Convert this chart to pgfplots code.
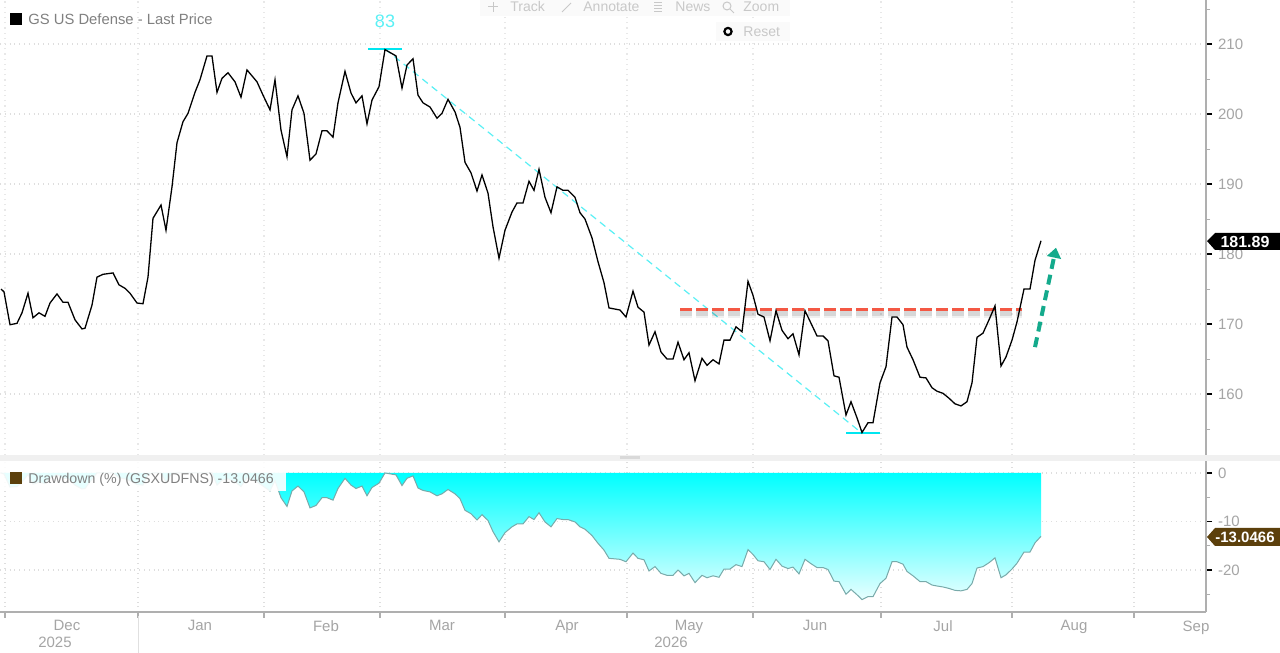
\documentclass[border=0pt]{standalone}
\usepackage{fontspec}
\setmainfont{Liberation Sans}
\usepackage{pgfplots}
\pgfplotsset{compat=1.18}
\usetikzlibrary{arrows.meta}
\definecolor{lblgray}{RGB}{165,165,165}
\definecolor{leggray}{RGB}{128,128,128}
\definecolor{tbgray}{RGB}{200,200,200}
\definecolor{axgray}{RGB}{175,175,175}
\definecolor{gridc}{RGB}{222,222,222}
\definecolor{cyanA}{RGB}{0,230,240}
\definecolor{cyanB}{RGB}{90,240,245}
\definecolor{redd}{RGB}{244,88,68}
\definecolor{teald}{RGB}{20,170,140}
\definecolor{ddbrown}{RGB}{92,64,12}
\definecolor{ddline}{RGB}{120,170,170}
\newcommand{\fs}[1]{\fontsize{#1}{#1}\selectfont}

\pgfplotstableread{
x p
1 175.0
4 174.6
10 169.9
17 170.1
22 171.6
28 174.4
33 170.9
39 171.6
45 171.1
50 173.0
57 174.3
63 173.1
68 173.1
75 170.6
82 169.3
85 169.4
92 172.7
97 176.7
103 177.1
113 177.3
119 175.6
125 175.1
130 174.4
137 173.0
143 172.9
148 176.7
153 185.1
161 187.0
166 183.4
172 189.6
177 195.9
183 198.9
188 200.1
195 203.1
200 204.9
207 208.3
212 208.3
217 203.1
222 205.1
228 205.9
235 204.6
241 202.4
247 206.3
257 204.6
263 202.7
270 200.6
275 204.9
281 197.7
287 193.9
292 200.6
298 202.6
304 200.1
310 193.4
316 194.3
322 197.6
327 197.6
333 196.7
338 201.6
345 206.1
351 203.0
356 201.6
362 202.6
367 198.6
372 202.0
379 203.9
385 209.2
396 208.3
402 203.7
407 207.0
413 207.9
418 202.7
423 201.6
430 201.0
437 199.4
442 200.1
448 202.1
455 200.3
460 198.1
465 193.1
471 191.6
477 189.0
482 191.3
488 188.7
493 183.9
499 179.4
505 183.4
512 186.0
517 187.3
523 187.3
529 190.4
534 189.1
539 192.1
545 188.1
551 185.9
557 189.6
563 189.1
568 189.1
575 188.1
580 185.9
585 185.0
592 182.3
598 178.9
604 175.9
609 172.3
620 172.0
626 171.0
633 174.7
638 172.4
644 171.7
649 167.0
655 168.9
661 166.0
667 165.0
673 165.0
678 167.4
684 164.9
689 165.9
695 161.9
702 165.1
707 164.1
713 164.9
719 164.3
724 167.7
730 167.7
736 169.6
742 168.9
748 176.1
753 174.1
758 171.4
764 171.0
770 167.6
776 171.9
782 169.1
788 167.9
793 168.6
799 165.6
805 171.9
811 170.1
817 168.3
823 168.3
828 167.6
834 162.6
839 162.4
846 157.0
851 158.9
857 156.6
862 154.5
868 155.9
873 155.9
880 161.6
886 163.9
892 171.0
897 171.0
903 169.9
907 166.7
913 164.9
920 162.4
926 162.3
932 160.9
937 160.4
943 160.1
949 159.4
955 158.6
961 158.3
967 158.9
972 161.6
977 168.1
983 168.7
989 170.6
995 172.6
1001 164.0
1006 165.3
1012 167.7
1017 170.3
1024 175.0
1030 175.0
1035 179.1
1041 181.89
}\pricetable

\pgfplotstableread{
x d
1 0
4 -0.2
10 -2.9
17 -2.8
22 -1.9
28 -0.3
33 -2.3
39 -1.9
45 -2.2
50 -1.1
57 -0.4
63 -1.1
68 -1.1
75 -2.5
82 -3.3
85 -3.2
92 -1.3
97 0
103 0
113 0
119 -1.0
125 -1.2
130 -1.6
137 -2.4
143 -2.5
148 -0.3
153 0
161 0
166 -1.9
172 0
177 0
183 0
188 0
195 0
200 0
207 0
212 0
217 -2.5
222 -1.5
228 -1.2
235 -1.8
241 -2.8
247 -1.0
257 -1.8
263 -2.7
270 -3.7
275 -1.6
281 -5.1
287 -6.9
292 -3.7
298 -2.7
304 -3.9
310 -7.2
316 -6.7
322 -5.1
327 -5.1
333 -5.6
338 -3.2
345 -1.1
351 -2.5
356 -3.2
362 -2.7
367 -4.7
372 -3.0
379 -2.1
385 0
396 -0.4
402 -2.6
407 -1.1
413 -0.6
418 -3.1
423 -3.6
430 -3.9
437 -4.7
442 -4.3
448 -3.4
455 -4.3
460 -5.3
465 -7.7
471 -8.4
477 -9.7
482 -8.6
488 -9.8
493 -12.1
499 -14.2
505 -12.3
512 -11.1
517 -10.5
523 -10.5
529 -9.0
534 -9.6
539 -8.2
545 -10.1
551 -11.1
557 -9.4
563 -9.6
568 -9.6
575 -10.1
580 -11.1
585 -11.6
592 -12.9
598 -14.5
604 -15.9
609 -17.6
620 -17.8
626 -18.3
633 -16.5
638 -17.6
644 -17.9
649 -20.2
655 -19.3
661 -20.7
667 -21.1
673 -21.1
678 -20.0
684 -21.2
689 -20.7
695 -22.6
702 -21.1
707 -21.6
713 -21.2
719 -21.5
724 -19.8
730 -19.8
736 -18.9
742 -19.3
748 -15.8
753 -16.8
758 -18.1
764 -18.3
770 -19.9
776 -17.8
782 -19.2
788 -19.7
793 -19.4
799 -20.8
805 -17.8
811 -18.7
817 -19.5
823 -19.5
828 -19.9
834 -22.3
839 -22.4
846 -25.0
851 -24.0
857 -25.1
862 -26.1
868 -25.5
873 -25.5
880 -22.8
886 -21.7
892 -18.3
897 -18.3
903 -18.8
907 -20.3
913 -21.2
920 -22.4
926 -22.4
932 -23.1
937 -23.3
943 -23.5
949 -23.8
955 -24.2
961 -24.3
967 -24.0
972 -22.8
977 -19.6
983 -19.3
989 -18.5
995 -17.5
1001 -21.6
1006 -21.0
1012 -19.8
1017 -18.6
1024 -16.3
1030 -16.3
1035 -14.4
1041 -13.0466
}\ddtable

\begin{document}
\begin{tikzpicture}
\useasboundingbox (0,0) rectangle (640pt,326.5pt);
\fill[white] (0,0) rectangle (640pt,326.5pt);

% ---------------- top panel ----------------
\begin{axis}[
  at={(0pt,99pt)}, anchor=south west,
  width=603pt, height=227.5pt, scale only axis,
  xmin=0, xmax=1206, ymin=151.29, ymax=216.29,
  axis x line*=bottom, axis y line*=right,
  x axis line style={draw=none},
  y axis line style={draw=axgray, line width=0.6pt},
  xtick=\empty,
  ytick={160,170,180,190,200,210},
  yticklabels={160,170,180,190,200,210},
  minor ytick={155,165,175,185,195,205,215},
  ymajorgrids, major grid style={dotted, gridc, line width=0.6pt},
  tick align=outside, major tick length=3pt, minor tick length=2pt,
  major tick style={black, line width=0.9pt}, minor tick style={axgray, line width=0.5pt},
  yticklabel style={font=\fs{7.5}, text=lblgray, xshift=-0.5pt},
  /pgf/number format/assume math mode=true,
]
\foreach \gx in {5,138,264,380,505,627,753,881,1012,1134}{
  \edef\tmp{\noexpand\draw[dotted, gridc!70!white, line width=0.6pt] (axis cs:\gx,151.29) -- (axis cs:\gx,216.29);}\tmp
}
% cyan peak-trough annotation
\draw[cyanB, line width=0.6pt, dash pattern=on 3.5pt off 2.5pt] (axis cs:385,209.3) -- (axis cs:862,154.4);
\draw[cyanA, line width=1.1pt] (axis cs:368,209.3) -- (axis cs:402,209.3);
\draw[cyanA, line width=1.1pt] (axis cs:846,154.4) -- (axis cs:880,154.4);
\node[text=cyanB, font=\fs{9}] at (axis cs:385,213.3) {83};
% red resistance line with soft shadow
\draw[black, opacity=0.06, line width=4pt, dash pattern=on 6pt off 2pt] (axis cs:680,171.5) -- (axis cs:1022,171.5);
\draw[black, opacity=0.10, line width=2.5pt, dash pattern=on 6pt off 2pt] (axis cs:680,171.55) -- (axis cs:1022,171.55);
\draw[redd, line width=1.8pt, dash pattern=on 6pt off 2pt] (axis cs:680,172.1) -- (axis cs:1022,172.1);
% price
\addplot[black, line width=0.65pt] table[x=x, y=p] {\pricetable};
% green arrow
\draw[teald, line width=2pt, dash pattern=on 5pt off 3pt, -{Triangle[length=5pt,width=7pt]}] (axis cs:1035,166.7) -- (axis cs:1056,180.9);
\end{axis}

% ---------------- bottom panel ----------------
\begin{axis}[
  at={(0pt,20.5pt)}, anchor=south west,
  width=603pt, height=75.5pt, scale only axis,
  xmin=0, xmax=1206, ymin=-28.66, ymax=2.47,
  axis x line*=bottom, axis y line*=right,
  x axis line style={draw=axgray, line width=0.6pt},
  y axis line style={draw=axgray, line width=0.6pt},
  xtick={5,138,264,380,505,627,753,881,1012,1134},
  xticklabels={Dec,Jan,Feb,Mar,Apr,May,Jun,Jul,Aug,Sep},
  xticklabel style={font=\fs{7.5}, text=lblgray, xshift=31pt, yshift=2.2pt},
  ytick={-20,-10,0}, yticklabels={-20,-10,0},
  minor ytick={-25,-15,-5},
  xmajorgrids, ymajorgrids, major grid style={dotted, gridc, line width=0.6pt},
  tick align=outside, major tick length=3pt, minor tick length=2pt,
  major tick style={black, line width=0.9pt}, minor tick style={axgray, line width=0.5pt},
  x tick style={axgray, line width=0.6pt},
  yticklabel style={font=\fs{7.5}, text=lblgray, xshift=-0.5pt},
  /pgf/number format/assume math mode=true,
]
\addplot[draw=none, shading=axis, top color={rgb,255:red,0;green,255;blue,255}, bottom color={rgb,255:red,232;green,255;blue,255}] table[x=x, y=d] {\ddtable} \closedcycle;
\addplot[ddline, line width=0.5pt] table[x=x, y=d] {\ddtable};
\end{axis}

% ---------------- decorations in pixel coordinates ----------------
\begin{scope}[x=0.5pt, y=-0.5pt, shift={(0pt,326.5pt)}]
  % panel separator
  \fill[black!6] (0,455) rectangle (1280,461);
  \fill[black!15] (620,456.5) rectangle (640,459.5);
  % year row
  \draw[black!12, line width=0.5pt] (138,616) -- (138,653);
  \node[font=\fs{7.5}, text=lblgray] at (55,642) {2025};
  \node[font=\fs{7.5}, text=lblgray] at (671,642) {2026};
  % top legend
  \fill[black] (10,13) rectangle (22,25);
  \node[anchor=west, font=\fs{7.4}, text=leggray, inner sep=0pt] at (28,19.5) {GS US Defense - Last Price};
  % bottom legend
  \fill[white, opacity=0.9] (0,461) rectangle (286,491);
  \fill[ddbrown] (10,472) rectangle (22,484);
  \node[anchor=west, font=\fs{7.1}, text=leggray, inner sep=0pt] at (28,479.5) {Drawdown (\%) (GSXUDFNS) -13.0466};
  % toolbar
  \fill[black!2] (480,0) rectangle (790,16);
  \fill[black!2] (716,22) rectangle (790,41);
  \draw[tbgray, line width=0.5pt] (488,7) -- (498,7) (493,2) -- (493,12);
  \node[anchor=west, font=\fs{7}, text=tbgray, inner sep=0pt] at (510,7) {Track};
  \draw[tbgray, line width=0.5pt] (562,12) -- (571,3);
  \node[anchor=west, font=\fs{7}, text=tbgray, inner sep=0pt] at (583,7) {Annotate};
  \draw[tbgray, line width=0.5pt] (654,3) -- (662,3) (654,6) -- (662,6) (654,9) -- (662,9) (654,12) -- (662,12);
  \node[anchor=west, font=\fs{7}, text=tbgray, inner sep=0pt] at (675,7) {News};
  \draw[tbgray, line width=0.5pt] (727,6) circle (4) (730,9) -- (734,13);
  \node[anchor=west, font=\fs{7}, text=tbgray, inner sep=0pt] at (743,7) {Zoom};
  \draw[black, line width=1.1pt] (728,31.5) circle (3.6);
  \node[anchor=west, font=\fs{7}, text=tbgray, inner sep=0pt] at (743,31.5) {Reset};
  % last value tags
  \fill[black] (1207,241) -- (1215,233) -- (1280,233) -- (1280,250) -- (1215,250) -- cycle;
  \node[font=\bfseries\fs{8}, text=white, inner sep=0pt] at (1245,241.5) {181.89};
  \fill[ddbrown] (1207,537) -- (1215,528) -- (1280,528) -- (1280,546) -- (1215,546) -- cycle;
  \node[font=\bfseries\fs{7.5}, text=white, inner sep=0pt] at (1245,537.5) {-13.0466};
\end{scope}
\end{tikzpicture}
\end{document}
